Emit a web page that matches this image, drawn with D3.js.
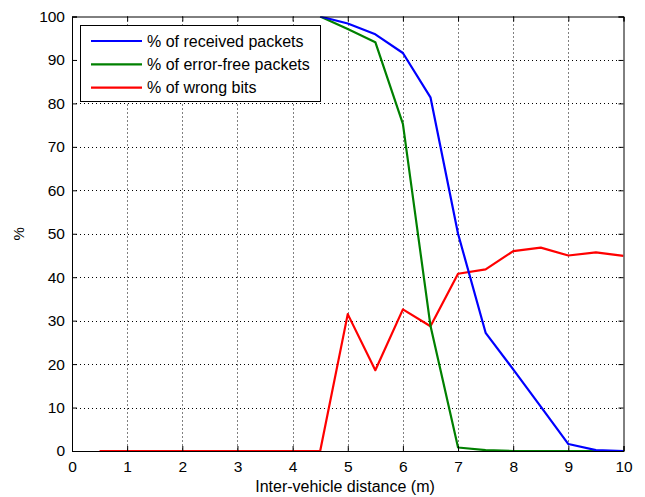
<!DOCTYPE html>
<html><head><meta charset="utf-8">
<script src="https://cdn.jsdelivr.net/npm/d3@7"></script>
<style>body{margin:0;background:#fff}svg{display:block}text{font-family:"Liberation Sans",Arial,sans-serif}</style>
</head><body>
<script>
const xTicks = [0,1,2,3,4,5,6,7,8,9,10];
const yTicks = [0,10,20,30,40,50,60,70,80,90,100];
const seriesNames = ["% of received packets","% of error-free packets","% of wrong bits"];
const seriesColors = ["#0000ff","#008000","#ff0000"];
const receivedX = [4.5,5,5.5,6,6.5,7,7.5,8,8.5,9,9.5,10];
const receivedY = [100,98.4,95.9,91.6,81.4,50,27.2,18.8,10.2,1.6,0.2,0];
const errorFreeX = [4.5,5,5.5,6,6.5,7,7.5,8,8.5,9,9.5,10];
const errorFreeY = [100,97.1,94.1,75.3,28.8,0.8,0.2,0,0,0,0,0];
const wrongX = [0.5,1,1.5,2,2.5,3,3.5,4,4.5,5,5.5,6,6.5,7,7.5,8,8.5,9,9.5,10];
const wrongY = [0,0,0,0,0,0,0,0,0,31.5,18.6,32.6,28.7,40.8,41.8,46,46.8,45,45.7,44.9];

const W=645,H=497;
const L=72,R=623.5,T=16.5,B=451;
const svg=d3.select("body").append("svg").attr("width",W).attr("height",H);
const x=d3.scaleLinear().domain([0,10]).range([L,R]);
const y=d3.scaleLinear().domain([0,100]).range([B,T]);

// grid
const g=svg.append("g");
g.selectAll(".gx").data(xTicks.slice(1,-1)).enter().append("line")
 .attr("x1",d=>Math.round(x(d))+0.5).attr("x2",d=>Math.round(x(d))+0.5).attr("y1",T).attr("y2",B)
 .attr("stroke","#000").attr("stroke-width",1).attr("stroke-dasharray","1,3");
g.selectAll(".gy").data(yTicks.slice(1,-1)).enter().append("line")
 .attr("y1",d=>Math.round(y(d))+0.5).attr("y2",d=>Math.round(y(d))+0.5).attr("x1",L).attr("x2",R)
 .attr("stroke","#000").attr("stroke-width",1).attr("stroke-dasharray","1,3");

// lines
const line=d3.line().x(d=>x(d[0])).y(d=>y(d[1]));
const data=[d3.zip(receivedX,receivedY),d3.zip(errorFreeX,errorFreeY),d3.zip(wrongX,wrongY)];
svg.append("clipPath").attr("id","clip").append("rect").attr("x",L).attr("y",T).attr("width",R-L).attr("height",B-T);
const lg=svg.append("g").attr("clip-path","url(#clip)");
[2,1,0].forEach(i=>{
  lg.append("path").attr("d",line(data[i])).attr("fill","none").attr("stroke",seriesColors[i]).attr("stroke-width",2.2).attr("stroke-linejoin","round");
});

// axes
const ax=d3.axisBottom(x).tickValues(xTicks).tickSize(-5).tickPadding(6);
const gx=svg.append("g").attr("transform",`translate(0,${B})`).call(ax);
gx.selectAll("text").attr("dy",null).attr("y",21);
const axT=d3.axisTop(x).tickValues(xTicks).tickSize(-5).tickFormat("");
svg.append("g").attr("transform",`translate(0,${T})`).call(axT);
const ay=d3.axisLeft(y).tickValues(yTicks).tickSize(-5).tickPadding(7);
svg.append("g").attr("transform",`translate(${L},0)`).call(ay);
const ayR=d3.axisRight(y).tickValues(yTicks).tickSize(-5).tickFormat("");
svg.append("g").attr("transform",`translate(${R},0)`).call(ayR);
svg.selectAll(".domain").attr("stroke","#000").attr("stroke-width",1);
svg.selectAll(".tick line").attr("stroke","#000");
svg.selectAll(".tick text").attr("font-size",15.5).attr("fill","#000");

svg.append("text").attr("x",345).attr("y",492).attr("text-anchor","middle").attr("font-size",16).text("Inter-vehicle distance (m)");
svg.append("text").attr("transform",`translate(24,${(T+B)/2}) rotate(-90)`).attr("text-anchor","middle").attr("font-size",15).text("%");

// legend
const leg=svg.append("g");
leg.append("rect").attr("x",80.5).attr("y",25.5).attr("width",240).attr("height",76).attr("fill","#fff").attr("stroke","#000");
seriesNames.forEach((n,i)=>{
  const yy=41+i*23.3;
  leg.append("line").attr("x1",91).attr("x2",142).attr("y1",yy).attr("y2",yy).attr("stroke",seriesColors[i]).attr("stroke-width",2.2);
  leg.append("text").attr("x",147).attr("y",yy+5.5).attr("font-size",16).text(n);
});
</script>
</body></html>
